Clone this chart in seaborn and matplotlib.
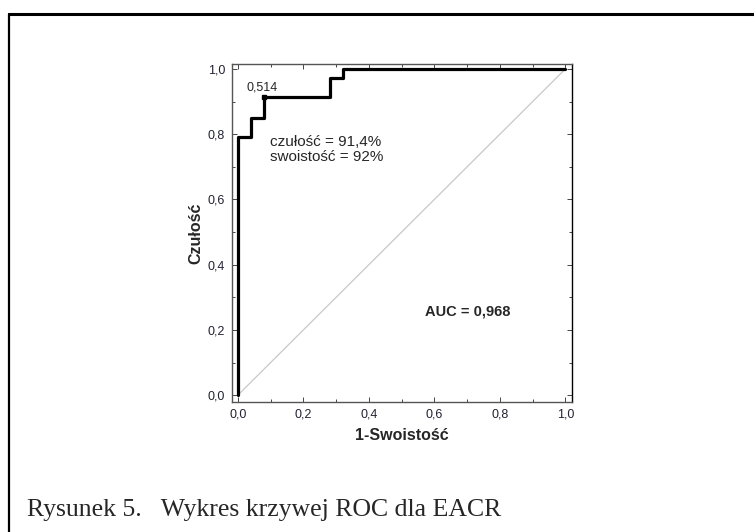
"""ROC curve for EACR (Rysunek 5)."""

import matplotlib

matplotlib.use("Agg")
import matplotlib.pyplot as plt
import pandas as pd
import seaborn as sns
from matplotlib.ticker import FuncFormatter, MultipleLocator
from matplotlib.lines import Line2D


# ROC points (1-specificity, sensitivity)
fpr = [0.0, 0.0, 0.04, 0.04, 0.08, 0.08, 0.28, 0.28, 0.32, 0.32, 1.0]
tpr = [0.0, 0.79, 0.79, 0.85, 0.85, 0.914, 0.914, 0.971, 0.971, 1.0, 1.0]
cut_point = (0.08, 0.914)
cut_label = "0,514"
info_lines = ["czułość = 91,4%", "swoistość = 92%"]
auc_label = "AUC = 0,968"
caption = "Rysunek 5.   Wykres krzywej ROC dla EACR"


def main():
    sns.set_style("white")
    plt.rcParams["font.family"] = ["Liberation Sans", "DejaVu Sans"]

    fig = plt.figure(figsize=(7.54, 5.32), dpi=100)
    ax = fig.add_axes([232 / 754, 1 - 402 / 532, 340 / 754, 338 / 532])

    df = pd.DataFrame({"fpr": fpr, "tpr": tpr})

    # reference diagonal
    sns.lineplot(x=[0, 1], y=[0, 1], ax=ax, color="#c8c8c8", linewidth=0.9)
    sns.lineplot(data=df, x="fpr", y="tpr", ax=ax, sort=False, estimator=None,
                 color="black", linewidth=2.3)
    ax.plot([cut_point[0]], [cut_point[1]], marker="s", markersize=3, color="black")
    ax.text(cut_point[0] - 0.005, cut_point[1] + 0.012, cut_label,
            fontsize=9, ha="center", va="bottom")

    ax.text(0.099, 0.776, info_lines[0], fontsize=11, va="center")
    ax.text(0.099, 0.730, info_lines[1], fontsize=11, va="center")
    ax.text(0.57, 0.255, auc_label, fontsize=10.5, fontweight="bold", va="center")

    ax.set_xlim(-0.018, 1.02)
    ax.set_ylim(-0.021, 1.015)
    ax.xaxis.set_major_locator(MultipleLocator(0.2))
    ax.yaxis.set_major_locator(MultipleLocator(0.2))
    ax.xaxis.set_minor_locator(MultipleLocator(0.1))
    ax.yaxis.set_minor_locator(MultipleLocator(0.1))
    fmt = FuncFormatter(lambda v, p: f"{v:.1f}".replace(".", ","))
    ax.xaxis.set_major_formatter(fmt)
    ax.yaxis.set_major_formatter(fmt)
    ax.tick_params(which="both", direction="in", top=True, right=True,
                   bottom=True, left=True, color="#444444", width=0.7)
    ax.tick_params(which="major", length=3.5, labelsize=9, labelcolor="#222233", pad=5)
    ax.tick_params(which="minor", length=2)
    for side in ["top", "bottom", "left"]:
        ax.spines[side].set_color("#555555")
        ax.spines[side].set_linewidth(1.0)
    ax.spines["right"].set_color("black")
    ax.spines["right"].set_linewidth(1.0)

    ax.set_xlabel("1-Swoistość", fontsize=11.5, fontweight="bold", labelpad=5)
    ax.set_ylabel("Czułość", fontsize=11.5, fontweight="bold", labelpad=3)

    # frame around the figure (top and left edges)
    fig.add_artist(Line2D([9 / 754, 1], [1 - 14 / 532, 1 - 14 / 532],
                          color="black", linewidth=2.2, transform=fig.transFigure))
    fig.add_artist(Line2D([9 / 754, 9 / 754], [0, 1 - 14 / 532],
                          color="black", linewidth=1.6, transform=fig.transFigure))

    fig.text(27 / 754, 1 - 516 / 532, caption, fontsize=18.5,
             family=["Liberation Serif", "DejaVu Serif"], va="baseline")

    fig.savefig("out.png", dpi=100)
    plt.close(fig)


if __name__ == "__main__":
    main()
